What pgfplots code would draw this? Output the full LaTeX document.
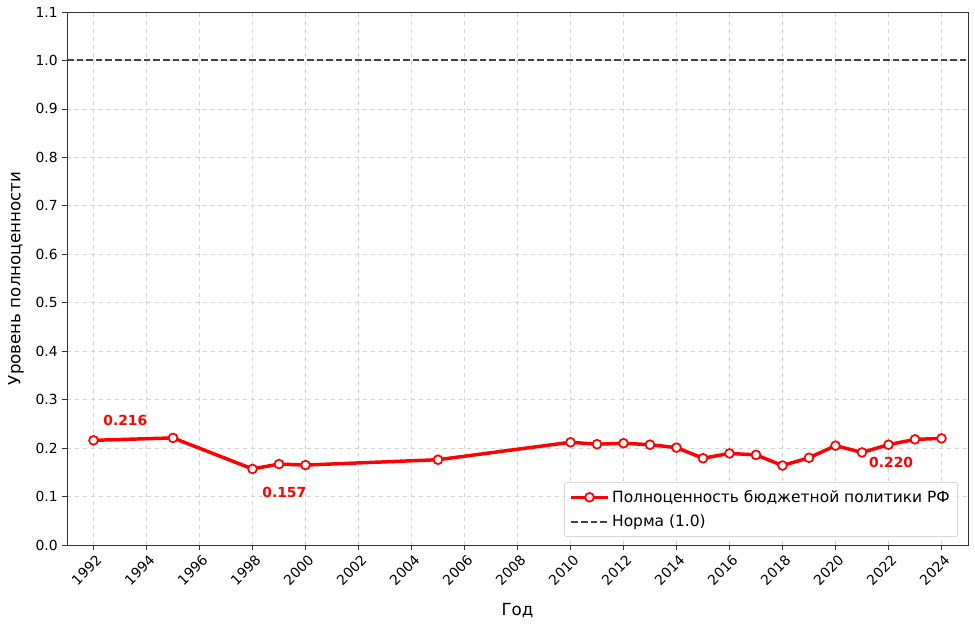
\documentclass[border=0pt]{standalone}
\usepackage{pgfplots}
\pgfplotsset{compat=1.18}
\usepackage{fontspec}
\setmainfont{DejaVu Sans}
\definecolor{mplred}{RGB}{255,0,0}
\definecolor{normgray}{RGB}{68,68,68}
\begin{document}
\begin{tikzpicture}
\useasboundingbox (-50.25pt,-59.25pt) rectangle (681pt,408.75pt);
\begin{axis}[
  at={(0,0)}, anchor=south west,
  scale only axis,
  width=675.75pt, height=399.75pt,
  xmin=1991, xmax=2025,
  ymin=0, ymax=1.1,
  xtick={1992,1994,...,2024},
  ytick={0,0.1,...,1.1},
  /pgf/number format/assume math mode=true,
  xticklabel style={/pgf/number format/1000 sep={}, rotate=45, anchor=north east, font=\fontsize{10.4}{12}\selectfont, inner sep=1pt, yshift=-2pt},
  yticklabel style={/pgf/number format/fixed, /pgf/number format/fixed zerofill, /pgf/number format/precision=1, font=\fontsize{10.4}{12}\selectfont},
  tick align=outside,
  tick pos=left,
  major tick length=3.5pt,
  axis line style={black!80, line width=0.6pt},
  every tick/.style={black!80, line width=0.6pt},
  grid=major,
  major grid style={dashed, gray!35, line width=0.5pt},
  xlabel={Год},
  ylabel={Уровень полноценности},
  xlabel style={font=\fontsize{12.5}{14}\selectfont, yshift=-8pt},
  ylabel style={font=\fontsize{12.5}{14}\selectfont, yshift=2pt},
  legend style={at={(1,0)}, anchor=south east, xshift=-7.5pt, yshift=6pt,
    font=\fontsize{11.6}{14}\selectfont, draw=gray!45, rounded corners=2pt,
    fill=white, fill opacity=0.9, text opacity=1, row sep=4pt, inner xsep=4pt, inner ysep=4pt},
  legend cell align=left,
  legend image code/.code={\draw[mark repeat=2,mark phase=2,#1] plot coordinates {(0cm,0cm) (0.48cm,0cm) (0.96cm,0cm)};},
]
\addplot[mplred, line width=2.6pt, mark=*, mark size=3.3pt,
  mark options={fill=white, draw=mplred, line width=1.3pt, solid}]
coordinates {
(1992,0.216) (1995,0.221) (1998,0.157) (1999,0.167) (2000,0.165)
(2005,0.176) (2010,0.212) (2011,0.208) (2012,0.210) (2013,0.207)
(2014,0.201) (2015,0.179) (2016,0.189) (2017,0.186) (2018,0.164)
(2019,0.180) (2020,0.205) (2021,0.191) (2022,0.207) (2023,0.218)
(2024,0.220)
};
\addlegendentry{Полноценность бюджетной политики РФ}
\addplot[normgray, line width=1.5pt, dash pattern=on 5pt off 2.2pt] coordinates {(1991,1.0) (2025,1.0)};
\addlegendentry{Норма (1.0)}
\node[text=mplred, font=\bfseries\fontsize{10.4}{12}\selectfont] at (axis cs:1993.2,0.256) {0.216};
\node[text=mplred, font=\bfseries\fontsize{10.4}{12}\selectfont] at (axis cs:1999.2,0.108) {0.157};
\node[text=mplred, font=\bfseries\fontsize{10.4}{12}\selectfont] at (axis cs:2022.1,0.171) {0.220};
\end{axis}
\end{tikzpicture}
\end{document}
